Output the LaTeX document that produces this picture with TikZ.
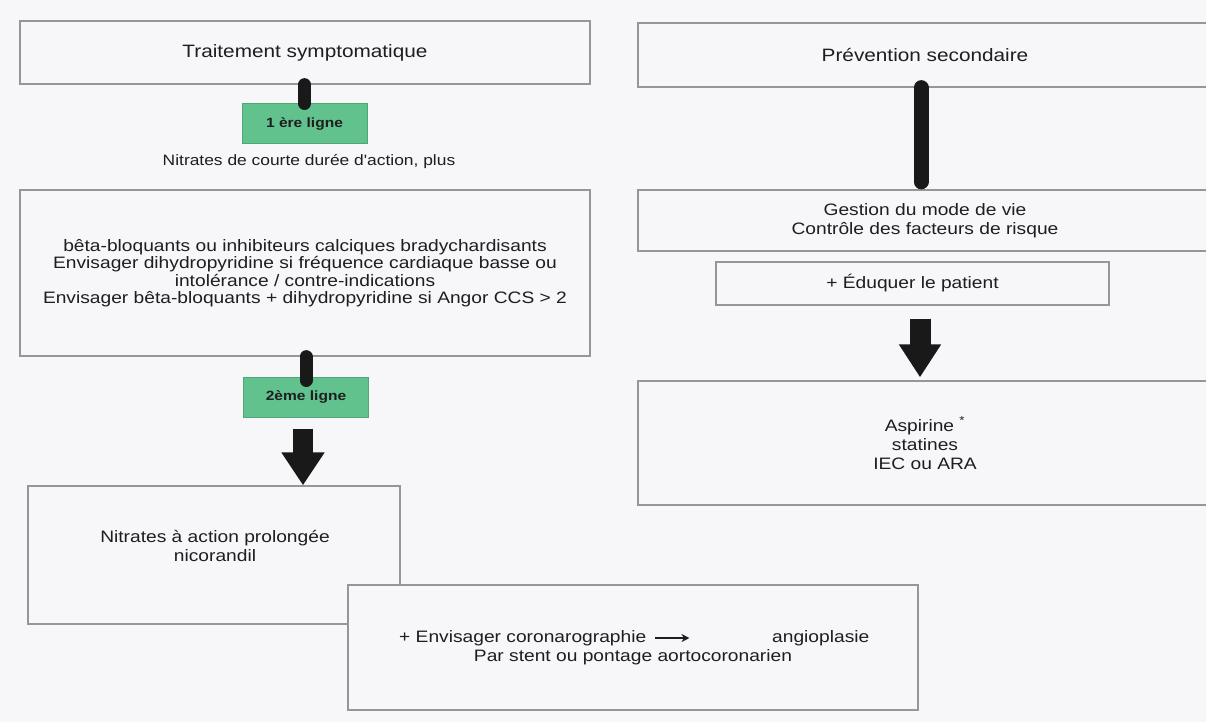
\documentclass[tikz,border=0pt]{standalone}
\usepackage{fontspec}
\setmainfont{Liberation Sans}[FakeStretch=1.16, Ligatures=TeXOff]
\usetikzlibrary{arrows.meta}
\definecolor{bg}{RGB}{247,247,249}
\definecolor{edgegray}{RGB}{150,150,153}
\definecolor{ink}{RGB}{30,30,33}
\definecolor{mint}{RGB}{98,194,142}
\definecolor{mintedge}{RGB}{82,165,118}
\definecolor{barink}{RGB}{25,25,25}
\newcommand\fsz[2]{\fontsize{#1pt}{#2pt}\selectfont}
\tikzset{
  box/.style={draw=edgegray, line width=1.3pt, fill=bg, inner sep=0pt, text=ink, align=center, font=\fsz{16.55}{19}},
  txt/.style={inner sep=0pt, text=ink, align=center, font=\fsz{16.55}{19}},
  greenbox/.style={draw=mintedge, line width=1pt, fill=mint, minimum width=125pt, minimum height=40pt, inner sep=0pt, text=ink, font=\bfseries\fsz{13.4}{16}},
  thickbar/.style={draw=barink, line width=13pt, line cap=round},
  bigarrow/.style={draw=barink, line width=20pt, -{Triangle[width=41pt,length=33pt]}},
  smallarr/.style={draw=ink, line width=1.8pt, -{Stealth[length=8pt,width=8pt]}}
}
\begin{document}
\begin{tikzpicture}[x=1pt,y=-1pt]
\useasboundingbox (0,0) rectangle (1206,722);
\fill[bg] (0,0) rectangle (1206,722);

% left column
\node[box, minimum width=570pt, minimum height=63pt, font=\fsz{17.9}{21}] (b1) at (305,52.5) {Traitement symptomatique};
\node[greenbox] (g1) at (304.5,124) {1 ère ligne};
\node[txt, font=\fsz{15}{18}] (n1) at (309,162) {Nitrates de courte durée d'action, plus};
\node[box, minimum width=570pt, minimum height=166pt, font=\fsz{16.55}{17.5}] (b2) at (305,273) {bêta-bloquants ou inhibiteurs calciques bradychardisants\\Envisager dihydropyridine si fréquence cardiaque basse ou\\intolérance / contre-indications\\Envisager bêta-bloquants + dihydropyridine si Angor CCS > 2};
\node[greenbox] (g2) at (306,397) {2ème ligne};
\node[box, minimum width=372pt, minimum height=138pt] (b3) at (214,555) {};
\node[txt] (t3) at (215,545.5) {Nitrates à action prolongée\\nicorandil};
\node[box, minimum width=570pt, minimum height=125pt] (b4) at (633,647.5) {};
\node[txt, anchor=west] (t4a) at (399,638) {+ Envisager coronarographie};
\node[txt, anchor=west] (t4b) at (772,638) {angioplasie};
\node[txt] (t4c) at (633,657) {Par stent ou pontage aortocoronarien};
\coordinate (a4end) at ([xshift=43pt]t4a.east);

% right column
\node[box, minimum width=574pt, minimum height=64pt, font=\fsz{17.9}{21}] (r1) at (925,55) {Prévention secondaire};
\node[box, minimum width=574pt, minimum height=61pt] (r2) at (925,220.5) {Gestion du mode de vie\\Contrôle des facteurs de risque};
\node[box, minimum width=393pt, minimum height=43pt] (r3) at (912.5,283.5) {+ Éduquer le patient};
\node[box, minimum width=574pt, minimum height=124pt] (r4) at (925,443) {Aspirine \textsuperscript{*}\\statines\\IEC ou ARA};

% connectors
\draw[thickbar] (g1.north |- b1.south) -- (g1.north);
\draw[thickbar] (g2.north |- b2.south) -- ([yshift=-4pt]g2.north);
\draw[bigarrow] ([xshift=-3pt,yshift=-11pt]g2.south) -- ([xshift=-3pt]g2.south |- b3.north);
\draw[smallarr] ([xshift=9pt]t4a.east) -- (a4end);
\draw[thickbar, line width=15pt] ([xshift=-4pt]r1.south) -- ([xshift=-4pt,yshift=7.5pt]r2.north);
\draw[bigarrow, line width=21pt, -{Triangle[width=40pt,length=33pt]}] ([xshift=7.5pt,yshift=-13pt]r3.south) -- ([xshift=7.5pt,yshift=3pt]r3.south |- r4.north);
\end{tikzpicture}
\end{document}
